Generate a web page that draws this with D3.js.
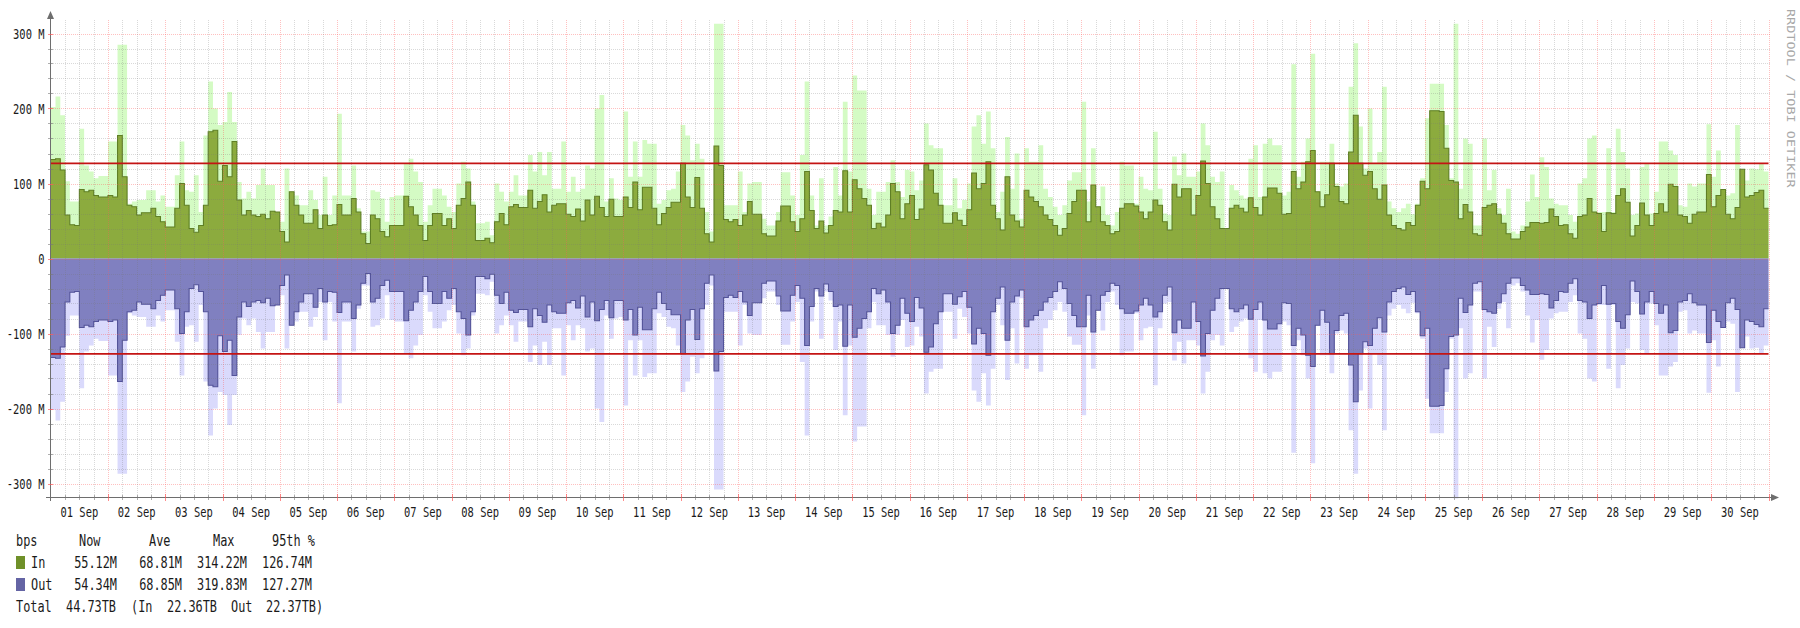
<!DOCTYPE html>
<html><head><meta charset="utf-8">
<script src="https://cdn.jsdelivr.net/npm/d3@7"></script>
<style>html,body{margin:0;padding:0;background:#fff;} svg{display:block;}</style>
</head><body>
<svg id="chart" width="1800" height="628"></svg>
<script>
// ---------- data (values in Mbit/s, 2-hour samples, 1 Sep 00:00 .. 1 Oct 00:00) ----------
const days = ["01 Sep","02 Sep","03 Sep","04 Sep","05 Sep","06 Sep","07 Sep","08 Sep","09 Sep","10 Sep",
  "11 Sep","12 Sep","13 Sep","14 Sep","15 Sep","16 Sep","17 Sep","18 Sep","19 Sep","20 Sep",
  "21 Sep","22 Sep","23 Sep","24 Sep","25 Sep","26 Sep","27 Sep","28 Sep","29 Sep","30 Sep"];
const yTickValues = [-300,-200,-100,0,100,200,300];
const yTickLabels = ["-300 M","-200 M","-100 M","0","100 M","200 M","300 M"];

const inAvg = [
132,133,118,58,45,44,92,89,91,84,82,82, 84,82,164,109,71,69,58,61,61,67,56,49,
42,42,67,100,71,40,35,44,71,169,171,103, 124,109,156,78,58,64,58,56,59,53,63,62,
36,22,89,71,58,47,47,65,40,58,44,45,
72,58,58,80,62,33,20,58,53,36,29,44, 44,44,83,69,58,44,24,44,60,60,44,53,
40,71,80,102,71,24,24,27,21,49,60,45, 69,72,68,68,91,67,76,85,62,71,73,73,
59,56,66,50,78,58,83,68,56,79,56,56,
82,68,102,65,95,95,67,45,60,68,75,75, 127,82,68,108,67,33,22,150,124,52,49,52,
44,58,76,59,59,33,30,30,50,70,70,49, 36,53,116,64,40,50,34,44,64,62,117,62,
105,93,80,71,40,47,42,58,100,89,53,73,
84,52,66,125,118,87,71,47,47,61,51,44, 65,114,93,100,129,71,53,38,109,58,50,42,
91,82,76,69,58,52,44,31,40,60,76,91, 91,49,98,69,49,44,33,36,67,73,73,70,
62,53,62,78,71,49,38,99,82,93,93,58,
84,130,100,69,53,40,40,67,71,67,62,81, 68,58,82,94,94,87,59,60,116,93,102,129,
144,89,69,85,127,96,76,73,142,191,127,111, 116,93,79,98,58,44,40,38,48,44,71,103,
93,197,197,196,147,104,102,53,72,62,33,31,
68,71,73,59,47,33,26,26,36,42,48,48, 47,48,66,56,44,45,33,27,56,58,80,62,
60,36,61,60,84,93,75,30,44,74,58,44, 60,73,62,99,96,58,56,47,59,62,62,112,
69,84,92,59,53,68,119,82,84,88,91,67];

const inMax = [
202,216,191,103,76,76,173,124,116,107,110,110, 156,156,285,285,73,76,78,78,91,91,76,84,
69,69,111,156,91,89,111,62,164,236,200,178, 182,222,182,102,80,89,80,98,120,98,98,62,
49,120,84,84,71,71,91,78,58,109,58,84,
193,84,84,124,67,36,36,91,89,80,49,82, 84,84,127,133,116,102,49,71,93,93,84,69,
62,100,129,120,76,47,47,49,31,100,89,76, 89,111,84,84,138,116,142,111,142,93,93,156,
89,109,89,93,124,120,200,218,76,107,80,78,
196,109,156,109,158,153,153,73,78,91,93,116, 178,164,131,153,133,62,36,313,313,71,71,71,
116,62,100,102,102,53,44,44,62,115,115,84, 58,138,236,84,44,107,44,56,122,84,209,116,
244,224,224,93,58,89,89,102,131,102,82,118,
116,91,104,180,151,147,147,71,71,107,67,78, 100,176,191,153,196,147,62,89,162,93,140,53,
147,129,129,151,93,82,69,58,71,104,115,115, 209,76,147,67,96,58,44,62,129,124,124,73,
109,93,91,169,93,60,58,136,111,140,109,109,
116,180,151,109,102,116,40,98,91,84,80,133, 151,82,153,160,151,151,84,89,259,109,129,160,
273,84,129,129,153,100,96,100,229,287,176,120, 200,127,142,229,76,67,62,67,73,59,73,107,
187,233,233,233,178,107,313,93,160,153,44,44,
160,91,118,67,58,93,36,33,44,76,112,82, 135,122,80,73,71,71,58,49,100,107,160,164,
62,62,147,62,173,142,120,58,60,122,127,60, 89,156,156,144,138,71,69,100,96,100,100,179,
109,144,87,84,87,178,93,104,120,119,127,116];

const outAvg = [
132,133,118,58,45,44,92,89,91,84,82,82, 84,82,164,109,71,69,58,61,61,67,56,49,
42,42,67,100,71,40,35,44,71,169,171,103, 124,109,156,78,58,64,58,56,59,53,63,62,
36,22,89,71,58,47,47,65,40,58,44,45,
72,58,58,80,62,33,20,58,53,36,29,44, 44,44,83,69,58,44,24,44,60,60,44,53,
40,71,80,102,71,24,24,27,21,49,60,45, 69,72,68,68,91,67,76,85,62,71,73,73,
59,56,66,50,78,58,83,68,56,79,56,56,
82,68,102,65,95,95,67,45,60,68,75,75, 127,82,68,108,67,33,22,150,124,52,49,52,
44,58,76,59,59,33,30,30,50,70,70,49, 36,53,116,64,40,50,34,44,64,62,117,62,
105,93,80,71,40,47,42,58,100,89,53,73,
84,52,66,125,118,87,71,47,47,61,51,44, 65,114,93,100,129,71,53,38,109,58,50,42,
91,82,76,69,58,52,44,31,40,60,76,91, 91,49,98,69,49,44,33,36,67,73,73,70,
62,53,62,78,71,49,38,99,82,93,93,58,
84,130,100,69,53,40,40,67,71,67,62,81, 68,58,82,94,94,87,59,60,116,93,102,129,
144,89,69,85,127,96,76,73,142,191,127,111, 116,93,79,98,58,44,40,38,48,44,71,103,
93,197,197,196,147,104,102,53,72,62,33,31,
68,71,73,59,47,33,26,26,36,42,48,48, 47,48,66,56,44,45,33,27,56,58,80,62,
60,36,61,60,84,93,75,30,44,74,58,44, 60,73,62,99,96,58,56,47,59,62,62,112,
69,84,92,59,53,68,119,82,84,88,91,67];

const outMax = [
202,216,191,103,76,76,173,124,116,107,110,110, 156,156,287,287,73,76,78,78,91,91,76,84,
69,69,111,156,91,89,111,62,164,236,200,178, 182,222,182,102,80,89,80,98,120,98,98,62,
49,120,84,84,71,71,91,78,58,109,58,84,
193,84,84,124,67,36,36,91,89,80,49,82, 84,84,127,133,116,102,49,71,93,93,84,69,
62,100,129,120,76,47,47,49,31,100,89,76, 89,111,84,84,138,116,142,111,142,93,93,156,
89,109,89,93,124,120,200,218,76,107,80,78,
196,109,156,109,158,153,153,73,78,91,93,116, 178,164,131,153,133,62,36,308,308,71,71,71,
116,62,100,102,102,53,44,44,62,115,115,84, 58,138,236,84,44,107,44,56,122,84,209,116,
244,224,224,93,58,89,89,102,131,102,82,118,
116,91,104,180,151,147,147,71,71,107,67,78, 100,176,191,153,196,147,62,89,162,93,140,53,
147,129,129,151,93,82,69,58,71,104,115,115, 209,76,147,67,96,58,44,62,129,124,124,73,
109,93,91,169,93,60,58,136,111,140,109,109,
116,180,151,109,102,116,40,98,91,84,80,133, 151,82,153,160,151,151,84,89,259,109,129,160,
273,84,129,129,153,100,96,100,229,287,176,120, 200,127,142,229,76,67,62,67,73,59,73,107,
187,233,233,233,178,107,320,93,160,153,44,44,
160,91,118,67,58,93,36,33,44,76,112,82, 135,122,80,73,71,71,58,49,100,107,160,164,
62,62,147,62,173,142,120,58,60,122,127,60, 89,156,156,144,138,71,69,100,96,100,100,179,
109,144,87,84,87,178,93,104,120,119,127,116];

const pct95In = 126.74, pct95Out = 127.27;
const samplesPerDay = 12;
const legendHeader = ["bps","Now","Ave","Max","95th %"];
const legendIn  = ["In","55.12M","68.81M","314.22M","126.74M"];
const legendOut = ["Out","54.34M","68.85M","319.83M","127.27M"];
const totalRow  = ["Total","44.73TB","(In","22.36TB","Out","22.37TB)"];
const watermark = "RRDTOOL / TOBI OETIKER";

// ---------- drawing ----------
const svg = d3.select("#chart");
const FONT = "'DejaVu Sans Mono', 'Liberation Mono', monospace";
const SX = 0.72; // horizontal squeeze of the original raster text

const x = d3.scaleLinear().domain([0, days.length]).range([50.74, 1768.5]);
const y = d3.scaleLinear().domain([-300, 300]).range([483.5, 33.5]);
const plotTop = 20, plotBottom = 497, plotLeft = x(0), plotRight = x(days.length);

function txt(g, px, py, s, size, anchor, fill) {
  return g.append("text")
    .attr("transform", `translate(${px},${py}) scale(${SX},1)`)
    .attr("text-anchor", anchor || "start")
    .attr("font-family", FONT).attr("font-size", size)
    .attr("fill", fill || "#1a1a1a")
    .style("white-space", "pre")
    .text(s);
}

function stepPoints(vals, sign) {
  const pts = vals.map((v, i) => ({t: i / samplesPerDay, v: sign * v}));
  pts.push({t: vals.length / samplesPerDay, v: sign * vals[vals.length - 1]});
  return pts;
}
const area = d3.area().curve(d3.curveStepAfter).x(d => x(d.t)).y0(y(0)).y1(d => y(d.v));
const line = d3.line().curve(d3.curveStepAfter).x(d => x(d.t)).y(d => y(d.v));

const gData = svg.append("g");
gData.append("path").attr("d", area(stepPoints(inMax, 1))).attr("fill", "#d4fbc4");
gData.append("path").attr("d", area(stepPoints(outMax, -1))).attr("fill", "#dadafc");
gData.append("path").attr("d", area(stepPoints(inAvg, 1))).attr("fill", "#8cab3e");
gData.append("path").attr("d", area(stepPoints(outAvg, -1))).attr("fill", "#8080c0");
gData.append("path").attr("d", line(stepPoints(inAvg, 1))).attr("fill", "none")
  .attr("stroke", "#5f7f25").attr("stroke-width", 1.1);
gData.append("path").attr("d", line(stepPoints(outAvg, -1))).attr("fill", "none")
  .attr("stroke", "#535399").attr("stroke-width", 1.1);

// grid (drawn over the areas, as rrdtool does)
const gGrid = svg.append("g").attr("shape-rendering", "crispEdges");
const minorCol = "rgba(120,120,120,0.28)", majorCol = "rgba(255,90,90,0.38)";
const minorY = d3.range(-300, 301, 20).filter(v => v % 100 !== 0);
gGrid.selectAll(".hminor").data(minorY).join("line")
  .attr("x1", plotLeft).attr("x2", plotRight + 2)
  .attr("y1", d => Math.round(y(d)) + 0.5).attr("y2", d => Math.round(y(d)) + 0.5)
  .attr("stroke", minorCol).attr("stroke-dasharray", "1,1");
gGrid.selectAll(".hmajor").data(yTickValues).join("line")
  .attr("x1", plotLeft).attr("x2", plotRight + 2)
  .attr("y1", d => Math.round(y(d)) + 0.5).attr("y2", d => Math.round(y(d)) + 0.5)
  .attr("stroke", majorCol).attr("stroke-dasharray", "1,1");
const minorX = d3.range(0, days.length * 4 + 1).filter(k => k % 4 !== 0).map(k => k / 4);
gGrid.selectAll(".vminor").data(minorX).join("line")
  .attr("x1", d => Math.round(x(d)) + 0.5).attr("x2", d => Math.round(x(d)) + 0.5)
  .attr("y1", plotTop).attr("y2", plotBottom)
  .attr("stroke", minorCol).attr("stroke-dasharray", "1,1");
gGrid.selectAll(".vmajor").data(d3.range(1, days.length + 1)).join("line")
  .attr("x1", d => Math.round(x(d)) + 0.5).attr("x2", d => Math.round(x(d)) + 0.5)
  .attr("y1", plotTop).attr("y2", plotBottom)
  .attr("stroke", majorCol).attr("stroke-dasharray", "1,1");

// 95th percentile lines
const gP = svg.append("g");
[[pct95In, 1], [pct95Out, -1]].forEach(([v, s]) => {
  gP.append("line").attr("x1", plotLeft).attr("x2", plotRight)
    .attr("y1", y(s * v)).attr("y2", y(s * v))
    .attr("stroke", "#c41414").attr("stroke-width", 1.8);
});

// axes
const gAx = svg.append("g").attr("shape-rendering", "crispEdges");
const axCol = "#6e6e6e";
gAx.append("line").attr("x1", 50.5).attr("x2", 50.5).attr("y1", 16).attr("y2", 501)
  .attr("stroke", axCol).attr("stroke-width", 1.3);
gAx.append("line").attr("x1", 46).attr("x2", 1773).attr("y1", 497.5).attr("y2", 497.5)
  .attr("stroke", axCol).attr("stroke-width", 1.3);
svg.append("path").attr("d", "M47,19 L50.5,11 L54,19 Z").attr("fill", axCol);
svg.append("path").attr("d", "M1771,494 L1779,497.5 L1771,501 Z").attr("fill", axCol);
// x ticks
gAx.selectAll(".xt").data(minorX).join("line")
  .attr("x1", d => Math.round(x(d)) + 0.5).attr("x2", d => Math.round(x(d)) + 0.5)
  .attr("y1", 495).attr("y2", 500).attr("stroke", "rgba(120,120,120,0.6)");
gAx.selectAll(".xT").data(d3.range(1, days.length + 1)).join("line")
  .attr("x1", d => Math.round(x(d)) + 0.5).attr("x2", d => Math.round(x(d)) + 0.5)
  .attr("y1", 494).attr("y2", 501).attr("stroke", "rgba(255,90,90,0.7)");
// y ticks
gAx.selectAll(".yt").data(d3.range(-300, 301, 20)).join("line")
  .attr("x1", 48).attr("x2", 53)
  .attr("y1", d => Math.round(y(d)) + 0.5).attr("y2", d => Math.round(y(d)) + 0.5)
  .attr("stroke", d => d % 100 === 0 ? "rgba(255,90,90,0.7)" : "rgba(120,120,120,0.6)");

// labels
const gLab = svg.append("g");
yTickValues.forEach((v, i) => txt(gLab, 44.5, y(v) + 5.5, yTickLabels[i], 14.5, "end"));
days.forEach((d, i) => txt(gLab, x(i + 0.5), 517, d, 14.5, "middle"));

// watermark
svg.append("text").attr("transform", `translate(1787,9) scale(${SX},1) rotate(90)`)
  .attr("font-family", FONT).attr("font-size", 13.5).attr("fill", "#a8a8a8")
  .style("white-space", "pre").text(watermark);

// legend
const gL = svg.append("g");
const LS = 16.5;
const colRight = [117, 182, 247, 312];
txt(gL, 16, 546, legendHeader[0], LS);
[79, 149, 213, 272].forEach((cx, i) => txt(gL, cx, 546, legendHeader[i + 1], LS));
gL.append("rect").attr("x", 16).attr("y", 556).attr("width", 9).attr("height", 13).attr("fill", "#6f9029");
gL.append("rect").attr("x", 16).attr("y", 578).attr("width", 9).attr("height", 13).attr("fill", "#6464a4");
txt(gL, 31, 568, legendIn[0], LS);
txt(gL, 31, 590, legendOut[0], LS);
colRight.forEach((cx, i) => {
  txt(gL, cx, 568, legendIn[i + 1], LS, "end");
  txt(gL, cx, 590, legendOut[i + 1], LS, "end");
});
[16, 66, 131, 167, 231, 266].forEach((cx, i) => txt(gL, cx, 612, totalRow[i], LS));
</script>
</body></html>
